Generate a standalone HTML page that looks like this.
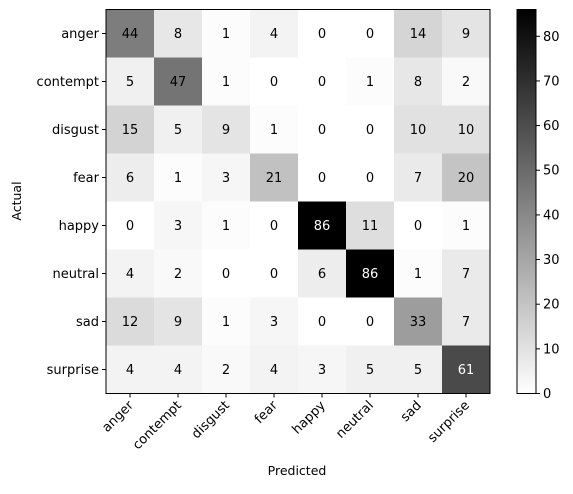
<!DOCTYPE html>
<html><head><meta charset="utf-8"><style>body{margin:0;background:#fff}svg text{font-family:"DejaVu Sans","Liberation Sans",sans-serif}</style></head>
<body>
<svg id="chart" width="573" height="489" viewBox="0 0 573 489">
<defs><linearGradient id="cb" x1="0" y1="1" x2="0" y2="0"><stop offset="0" stop-color="#fff"/><stop offset="1" stop-color="#000"/></linearGradient></defs>
<g id="cells"></g>
<rect x="106" y="9.5" width="384" height="384" fill="none" stroke="#000" stroke-width="1"/>
<g id="axes"></g>
<text x="297" y="475" font-size="12.5" text-anchor="middle">Predicted</text>
<text x="21" y="201" font-size="12.5" text-anchor="middle" transform="rotate(-90 21 201)">Actual</text>
<rect x="517" y="9.5" width="19" height="384" fill="url(#cb)" stroke="#000" stroke-width="1"/>
<g id="cbticks"></g>
</svg>
<script>
const labels = ["anger","contempt","disgust","fear","happy","neutral","sad","surprise"];
const matrix = [
[44,8,1,4,0,0,14,9],
[5,47,1,0,0,1,8,2],
[15,5,9,1,0,0,10,10],
[6,1,3,21,0,0,7,20],
[0,3,1,0,86,11,0,1],
[4,2,0,0,6,86,1,7],
[12,9,1,3,0,0,33,7],
[4,4,2,4,3,5,5,61]
];
const cbTicks = [0,10,20,30,40,50,60,70,80];
const vmax = 86;
const NS="http://www.w3.org/2000/svg";
const X0=106,Y0=9.5,C=48;
const xPos=i=>X0+i*C, yPos=i=>Y0+i*C;
const cbY=v=>393.5-v/vmax*384;
function mk(t,a,p){const e=document.createElementNS(NS,t);for(const k in a)e.setAttribute(k,a[k]);p.appendChild(e);return e;}
const cells=document.getElementById('cells'),axes=document.getElementById('axes'),cb=document.getElementById('cbticks');
matrix.forEach((row,r)=>row.forEach((v,c)=>{
 const g=Math.round(255*(1-v/vmax));
 const rc=mk('rect',{x:xPos(c),y:yPos(r),width:C,height:C,fill:`rgb(${g},${g},${g})`},cells);
 
 
 const t=mk('text',{x:xPos(c)+C/2,y:yPos(r)+C/2+4.5,'font-size':13,'text-anchor':'middle',fill:v>50?'#fff':'#000'},cells);
 t.textContent=v;
 
 
}));
labels.forEach((l,i)=>{
 mk('line',{x1:X0-4,x2:X0,y1:yPos(i)+C/2,y2:yPos(i)+C/2,stroke:'#000'},axes);
 const ty=mk('text',{x:X0-7,y:yPos(i)+C/2+4.5,'font-size':13,'text-anchor':'end'},axes);
 ty.textContent=l;
 
 
 const cx=xPos(i)+C/2;
 mk('line',{x1:cx,x2:cx,y1:393.5,y2:397.5,stroke:'#000'},axes);
 const tx=mk('text',{x:cx+4,y:406,'font-size':13,'text-anchor':'end',transform:`rotate(-45 ${cx+4} 406)`},axes);
 tx.textContent=l;
 
 
});
cbTicks.forEach(v=>{
 const y=cbY(v);
 mk('line',{x1:536,x2:540,y1:y,y2:y,stroke:'#000'},cb);
 const t=mk('text',{x:543,y:y+4.5,'font-size':13},cb);
 t.textContent=v;
 
 
});
</script>
</body></html>
